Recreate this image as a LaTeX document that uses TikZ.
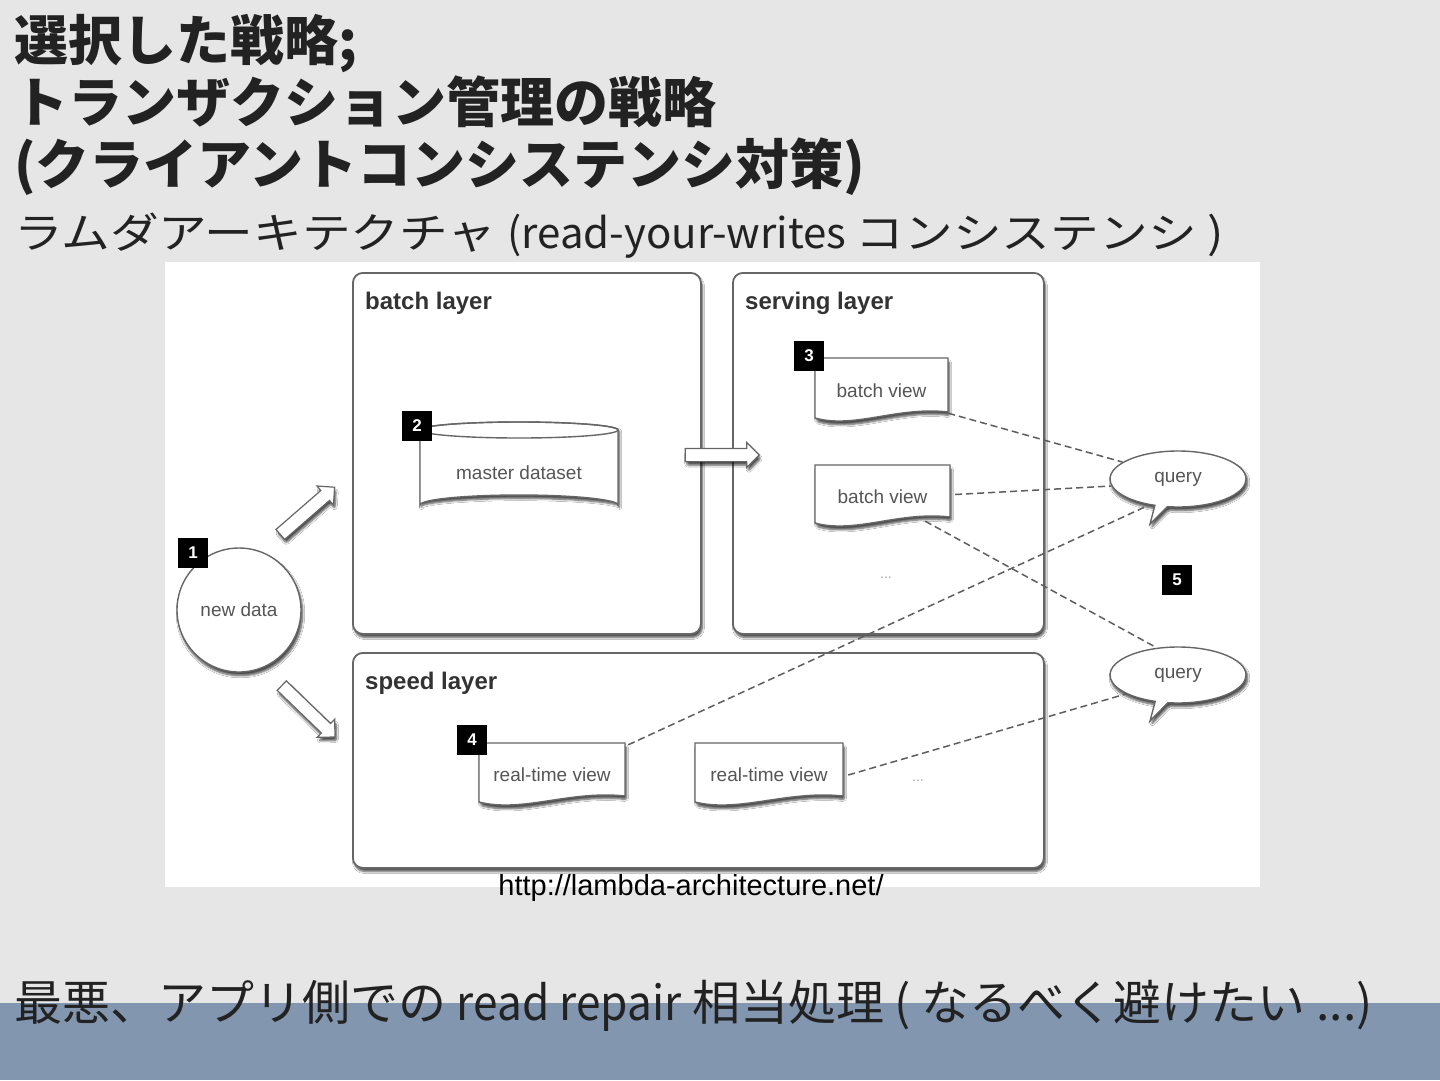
\documentclass[tikz,border=0pt]{standalone}
\usepackage{fontspec}
\setmainfont{Liberation Sans}
\newfontfamily\jp{Noto Sans CJK JP}
\newfontfamily\jpwide{Noto Sans CJK JP}[FakeStretch=1.16]
\usetikzlibrary{shadows,shadows.blur,shapes.callouts,shapes.arrows}
\definecolor{bg}{HTML}{E6E6E6}
\definecolor{band}{HTML}{8296B0}
\definecolor{boxgray}{HTML}{666666}
\definecolor{ink}{HTML}{222222}
\definecolor{lbl}{HTML}{333333}
\definecolor{soft}{HTML}{555555}
\definecolor{dashc}{HTML}{5E5E5E}
\tikzset{
  shad/.style={blur shadow={shadow xshift=1.5pt, shadow yshift=-3.5pt, shadow blur steps=6,
    shadow blur extra rounding=2pt, shadow opacity=70}},
  layerbox/.style={draw=boxgray, line width=1.8pt, rounded corners=10pt, fill=white, shad,
    inner sep=0pt, anchor=north west},
  layerlabel/.style={anchor=base west, inner sep=0pt, text=lbl,
    font=\bfseries\fontsize{24}{24}\selectfont},
  badge/.style={fill=black, text=white, minimum size=30pt, inner sep=0pt,
    font=\bfseries\fontsize{17}{17}\selectfont},
  soft text/.style={text=soft, font=\fontsize{19}{19}\selectfont},
  docshape/.style={draw=boxgray, line width=1.4pt, fill=white, shad},
  viewnode/.style={soft text, inner sep=0pt},
  hollow/.style={single arrow, draw=boxgray, line width=1.2pt, fill=white, shad,
    inner sep=6pt, single arrow head extend=6pt, single arrow tip angle=90},
  dashline/.style={draw=dashc, line width=1.5pt, dash pattern=on 7pt off 4pt},
  bubble/.style={ellipse callout, draw=boxgray, line width=1.4pt, fill=white, shad,
    minimum width=136pt, minimum height=56pt, inner sep=0pt, callout pointer arc=11,
    soft text},
  title/.style={anchor=base west, inner sep=0pt, text=ink,
    font=\jp\bfseries\fontsize{54}{54}\selectfont},
  bodytext/.style={anchor=base west, inner sep=0pt, text=ink,
    font=\jp\fontsize{48}{48}\selectfont},
}
\newcommand\narrowlatin[2]{{\addfontfeature{FakeStretch=#1}#2}}
% name, x1, y1, x2, y2, text
\newcommand\docview[6]{%
  \path[docshape] (#2,#3) -- (#4,#3) -- (#4,#5-11)
    .. controls ({#2+0.62*(#4-#2)},#5-17) and ({#2+0.3*(#4-#2)},#5+6) .. (#2,#5-5) -- cycle;
  \node[viewnode, minimum width={(#4-#2)*1pt}, minimum height={(#5-#3)*1pt}]
    (#1) at ({(#2+#4)/2},{(#3+#5)/2}) {#6};
}
\begin{document}
\begin{tikzpicture}[x=1pt,y=-1pt]
\useasboundingbox (0,0) rectangle (1440,1080);
\fill[bg] (0,0) rectangle (1440,1080);
\fill[band] (0,1003) rectangle (1440,1080);
\fill[white] (165,262) rectangle (1260,887);

% titles
\node[title] (t1) at (14,60) {選択した戦略;};
\node[title] (t2) at (14,122) {トランザクション管理の戦略};
\node[title] (t3) at (14,184) {(クライアントコンシステンシ対策)};
\node[anchor=base west, inner sep=0pt, text=ink, font=\fontsize{42}{42}\selectfont] (sub) at (14,248)
  {\jpwide ラムダアーキテクチャ \jp(read-your-writes \jpwide コンシステンシ )};

% layers
\node[layerbox, minimum width=348pt, minimum height=361pt] (batch) at (352,272) {};
\node[layerbox, minimum width=311pt, minimum height=361pt] (serving) at (732,272) {};
\node[layerbox, minimum width=691pt, minimum height=215pt] (speed) at (352,652) {};
\node[layerlabel] (lb) at (365,309) {batch layer};
\node[layerlabel] (ls) at (745,309) {serving layer};
\node[layerlabel] (lsp) at (365,689) {speed layer};

% new data
\node[circle, draw=boxgray, line width=1.4pt, fill=white, shad, minimum size=124pt,
  inner sep=0pt, soft text] (nd) at (239,610) {new data};
\node[badge] (b1) at (193,553) {1};

% master dataset cylinder
\path[docshape] (420,430) -- (420,505) arc[start angle=180, end angle=360, x radius=99, y radius=10]
  -- (618,430) arc[start angle=0, end angle=-180, x radius=99, y radius=8] -- cycle;
\draw[boxgray, line width=1.4pt] (420,430) arc[start angle=180, end angle=-180, x radius=99, y radius=8];
\node[viewnode, minimum width=198pt, minimum height=85pt] (master) at (519,473) {master dataset};
\node[badge] (b2) at (417,426) {2};

% hollow arrows
\node[hollow, minimum height=72pt, rotate=41] (a1) at (305,513) {};
\node[hollow, minimum height=74pt, rotate=-44] (a2) at (306,709) {};
\node[hollow, minimum height=74pt] (a3) at (719,455) {};

% views
\docview{bv1}{815}{358}{948}{423}{batch view}
\docview{bv2}{815}{465}{950}{528}{batch view}
\docview{rt1}{479}{743}{625}{807}{real-time view}
\docview{rt2}{695}{743}{843}{807}{real-time view}
\node[badge] (b3) at (809,356) {3};
\node[badge] (b4) at (472,740) {4};
\node[text=gray!70, font=\fontsize{14}{14}\selectfont] (d1) at (886,578) {...};
\node[text=gray!70, font=\fontsize{14}{14}\selectfont] (d2) at (918,781) {...};

% queries
\coordinate (q1tip) at (1150,524);
\coordinate (q2tip) at (1150,721);
\node[bubble, callout absolute pointer={(q1tip)}] (q1) at (1178,479) {query};
\node[bubble, callout absolute pointer={(q2tip)}] (q2) at (1178,675) {query};
\node[badge] (b5) at (1177,580) {5};

% dashed connectors
\draw[dashline] ([yshift=10pt]bv1.south east) -- (q1.163);
\draw[dashline] ([xshift=5pt,yshift=2pt]bv2.east) -- (q1.186);
\draw[dashline] ([xshift=-25pt,yshift=7pt]bv2.south east) -- (q2.128);
\draw[dashline] ([xshift=3pt,yshift=-2pt]rt1.north east) -- (q1.222);
\draw[dashline] ([xshift=5pt]rt2.east) -- (q2.200);

% url
\node[anchor=base, inner sep=0pt, text=black, font=\fontsize{29}{29}\selectfont] (url) at (691,895)
  {http://lambda-architecture.net/};

% bottom line
\node[bodytext] (bottom) at (14,1020)
  {最悪、アプリ側での \narrowlatin{0.92}{read repair} 相当処理 ( なるべく避けたい ...)};
\end{tikzpicture}
\end{document}
